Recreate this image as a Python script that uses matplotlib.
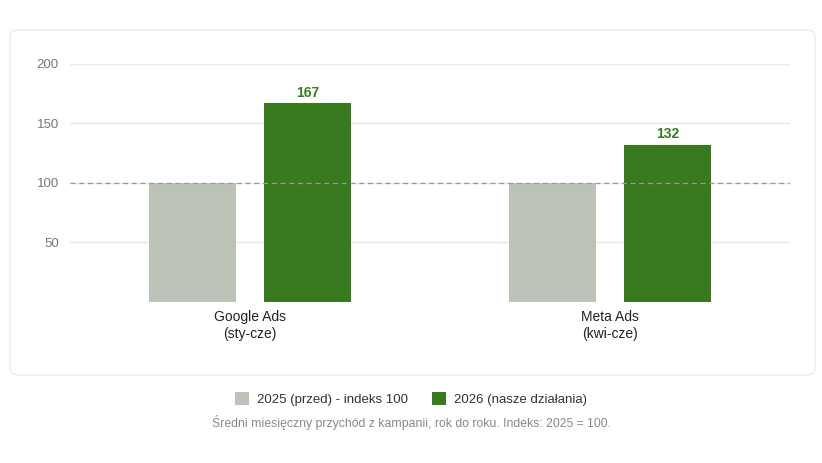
import matplotlib
matplotlib.use("Agg")
import matplotlib.pyplot as plt
from matplotlib.patches import FancyBboxPatch, Patch

plt.rcParams["font.family"] = ["Liberation Sans", "DejaVu Sans"]

categories = ["Google Ads\n(sty-cze)", "Meta Ads\n(kwi-cze)"]
before = [100, 100]
after = [167, 132]
series_names = ["2025 (przed) - indeks 100", "2026 (nasze działania)"]
yticks = [50, 100, 150, 200]

GRAY = "#bac3b6"
GREEN = "#3a7a1e"

fig = plt.figure(figsize=(8.22, 4.63), dpi=100)

# card background, below the axes
card = FancyBboxPatch((10 / 822, 88 / 463), 805 / 822, 345 / 463,
                      boxstyle="round,pad=0,rounding_size=0.012",
                      transform=fig.transFigure, facecolor="white",
                      edgecolor="#ebebeb", linewidth=1, zorder=-5)
fig.patches.append(card)

ax = fig.add_axes([70 / 822, 161 / 463, 720 / 822, 238 / 463])
ax.set_zorder(2)
ax.set_facecolor("none")
x = list(range(len(categories)))
w = 0.24
off = 0.16
ax.bar([i - off for i in x], before, w, color=GRAY, zorder=3)
ax.bar([i + off for i in x], after, w, color=GREEN, zorder=3)
for i, v in enumerate(after):
    ax.text(i + off, v + 3, str(v), ha="center", va="bottom",
            fontsize=10, fontweight="bold", color=GREEN)

ax.set_xlim(-0.5, 1.5)
ax.set_ylim(0, 200)
ax.set_yticks(yticks)
ax.set_yticklabels([str(t) for t in yticks], color="#777777", fontsize=9.5)
ax.grid(axis="y", color="#e8e8e8", linewidth=1, zorder=0)
ax.axhline(100, color="#999999", linestyle=(0, (4, 3)), linewidth=0.9, zorder=4)
ax.set_xticks(x)
ax.set_xticklabels(categories, fontsize=10, color="#222222")
ax.tick_params(axis="both", length=0)
ax.tick_params(axis="y", pad=8)
ax.tick_params(axis="x", pad=6)
for s in ax.spines.values():
    s.set_visible(False)

handles = [Patch(facecolor=GRAY, label=series_names[0]),
           Patch(facecolor=GREEN, label=series_names[1])]
fig.legend(handles=handles, loc="center", bbox_to_anchor=(0.5, 1 - 399 / 463),
           ncol=2, frameon=False, fontsize=9.5, handlelength=1.1,
           handleheight=1.1, columnspacing=1.8, handletextpad=0.6,
           labelcolor="#333333")
fig.text(0.5, 1 - 423 / 463,
         "Średni miesięczny przychód z kampanii, rok do roku. Indeks: 2025 = 100.",
         ha="center", va="center", fontsize=8.8, color="#888888")

fig.savefig("out.png", dpi=100)
